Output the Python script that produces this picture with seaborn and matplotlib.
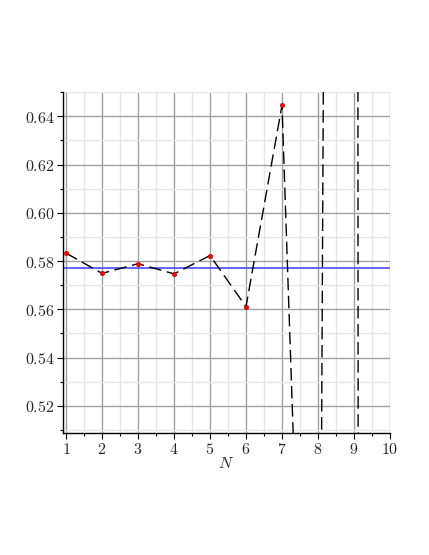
import matplotlib
matplotlib.use("Agg")
import matplotlib.pyplot as plt
import seaborn as sns
import numpy as np
import pandas as pd
from matplotlib.ticker import MultipleLocator, FuncFormatter

N_vals = [1, 2, 3, 4, 5, 6, 7, 8, 9, 10]
estimates = [0.5833, 0.5749, 0.5789, 0.5747, 0.5823, 0.5611, 0.6445, 0.207, 3.2, -20.0]
reference_value = 0.5771

sns.set_theme(style="white")
plt.rcParams['font.family'] = ['DejaVu Serif']
plt.rcParams['mathtext.fontset'] = 'cm'

df = pd.DataFrame({"N": N_vals, "value": estimates})

fig = plt.figure(figsize=(4.29, 5.55), dpi=100)
ax = fig.add_axes([0.147, 0.22, 0.762, 0.614])

ax.set_xlim(0.917, 10)
ax.set_ylim(0.5088, 0.65)

ax.xaxis.set_major_locator(MultipleLocator(1))
ax.xaxis.set_minor_locator(MultipleLocator(0.5))
ax.yaxis.set_major_locator(MultipleLocator(0.02))
ax.yaxis.set_minor_locator(MultipleLocator(0.01))
ax.grid(which='major', color='#a0a0a0', linewidth=1.0, zorder=0)
ax.grid(which='minor', color='#e6e6e6', linewidth=1.0, zorder=0)
ax.set_axisbelow(True)

ax.axhline(reference_value, color='#4a4aff', linewidth=1.2, zorder=2)
sns.lineplot(data=df, x="N", y="value", ax=ax, color='black', linewidth=1.0,
             dashes=False, zorder=3)
ax.lines[-1].set_dashes([9, 4])
sns.scatterplot(data=df, x="N", y="value", ax=ax, color='red', s=11,
                edgecolor='#aa0000', linewidth=0.3, zorder=4)

for s in ['top', 'right']:
    ax.spines[s].set_visible(False)
for s in ['left', 'bottom']:
    ax.spines[s].set_color('black')
    ax.spines[s].set_linewidth(1.0)

ax.tick_params(which='major', direction='out', length=4, width=0.8, color='black',
               labelsize=11.5, left=True, bottom=True, pad=2)
ax.tick_params(which='minor', direction='out', length=2.5, width=0.8, color='black',
               left=True, bottom=True)
ax.xaxis.set_major_formatter(FuncFormatter(lambda v, p: r'$%d$' % round(v)))
ax.yaxis.set_major_formatter(FuncFormatter(lambda v, p: r'$%.2f$' % v))

ax.set_xlabel(r'$N$', fontsize=11.5, labelpad=-2)
ax.set_ylabel('')

fig.savefig('out.png', dpi=100)
